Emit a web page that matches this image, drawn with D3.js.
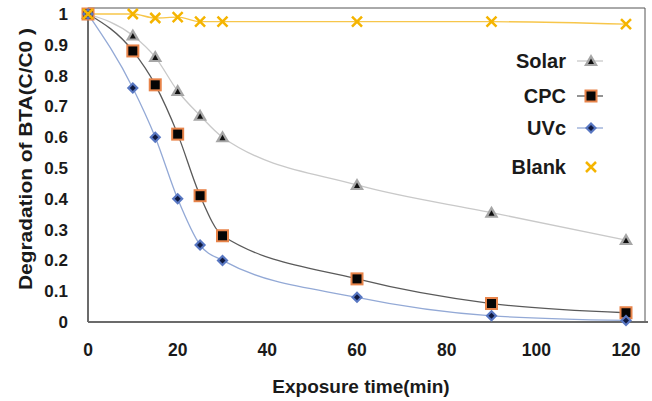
<!DOCTYPE html>
<html>
<head>
<meta charset="utf-8">
<script src="https://cdn.jsdelivr.net/npm/d3@7"></script>
<style>
  body { margin: 0; background: #fff; }
  text { font-family: "Liberation Sans", Arial, sans-serif; font-weight: bold; fill: #1a1a1a; }
</style>
</head>
<body>
<div id="chart"></div>
<script>
// exposure times (min)
const times = [0, 10, 15, 20, 25, 30, 60, 90, 120];
// C/C0 for each condition
const solar = [1, 0.93, 0.86, 0.75, 0.67, 0.60, 0.445, 0.355, 0.266];
const cpc = [1, 0.88, 0.77, 0.61, 0.41, 0.28, 0.14, 0.06, 0.03];
const uvc = [1, 0.76, 0.60, 0.40, 0.25, 0.20, 0.08, 0.02, 0.005];
const blank = [1, 1.0, 0.987, 0.99, 0.975, 0.975, 0.975, 0.975, 0.967];
const seriesNames = ["Solar", "CPC", "UVc", "Blank"];
const xTicks = [0, 20, 40, 60, 80, 100, 120];
const yTicks = [0, 0.1, 0.2, 0.3, 0.4, 0.5, 0.6, 0.7, 0.8, 0.9, 1];

const width = 652, height = 401;

const x = d3.scaleLinear().domain([0, 120]).range([88, 626]);
const y = d3.scaleLinear().domain([0, 1]).range([322, 14]);

const svg = d3.select("#chart").append("svg")
  .attr("width", width)
  .attr("height", height);

// plot border (top and right)
svg.append("path")
  .attr("d", `M${x(0)},8 H645 V${y(0)}`)
  .attr("fill", "none")
  .attr("stroke", "#555")
  .attr("stroke-width", 1);

const styles = {
  Solar: { line: "#c9c9c9", values: solar },
  CPC: { line: "#5a5a5a", values: cpc },
  UVc: { line: "#93a9d6", values: uvc },
  Blank: { line: "#f7c64a", values: blank }
};

const line = d3.line()
  .x(d => x(d[0]))
  .y(d => y(d[1]))
  .curve(d3.curveMonotoneX);

// draw the markers
function marker(g, name, cx, cy) {
  if (name === "Solar") {
    g.append("path").attr("d", `M${cx},${cy - 7} L${cx + 7},${cy + 5} L${cx - 7},${cy + 5} Z`)
      .attr("fill", "#a6a6a6");
    g.append("path").attr("d", `M${cx},${cy - 2.5} L${cx + 3},${cy + 3} L${cx - 3},${cy + 3} Z`)
      .attr("fill", "#111");
  } else if (name === "CPC") {
    g.append("rect").attr("x", cx - 6.5).attr("y", cy - 6.5).attr("width", 13).attr("height", 13)
      .attr("fill", "#e8844a");
    g.append("rect").attr("x", cx - 4.5).attr("y", cy - 4.5).attr("width", 9).attr("height", 9)
      .attr("fill", "#050505");
  } else if (name === "UVc") {
    g.append("path").attr("d", `M${cx},${cy - 6} L${cx + 6},${cy} L${cx},${cy + 6} L${cx - 6},${cy} Z`)
      .attr("fill", "#5877c2");
    g.append("path").attr("d", `M${cx},${cy - 3} L${cx + 3},${cy} L${cx},${cy + 3} L${cx - 3},${cy} Z`)
      .attr("fill", "#101a40");
  } else {
    g.append("path").attr("d", `M${cx - 5},${cy - 5} L${cx + 5},${cy + 5} M${cx + 5},${cy - 5} L${cx - 5},${cy + 5}`)
      .attr("stroke", "#f5b400").attr("stroke-width", 2.5);
  }
}

// lines
const order = ["Solar", "CPC", "UVc", "Blank"];
order.forEach(name => {
  const pts = times.map((t, i) => [t, styles[name].values[i]]);
  svg.append("path")
    .datum(pts)
    .attr("d", line)
    .attr("fill", "none")
    .attr("stroke", styles[name].line)
    .attr("stroke-width", 1.3);
});

// axes
svg.append("line").attr("x1", x(0)).attr("x2", x(0)).attr("y1", 8).attr("y2", y(0))
  .attr("stroke", "#6b6b6b").attr("stroke-width", 2);
svg.append("line").attr("x1", x(0)).attr("x2", 648).attr("y1", y(0)).attr("y2", y(0))
  .attr("stroke", "#6b6b6b").attr("stroke-width", 2);

// markers
order.forEach(name => {
  const g = svg.append("g");
  times.forEach((t, i) => marker(g, name, x(t), y(styles[name].values[i])));
});

// tick labels
svg.selectAll(".ytick").data(yTicks).join("text")
  .attr("x", 68)
  .attr("y", d => y(d) + 6)
  .attr("text-anchor", "end")
  .style("font-size", "17px")
  .text(d => d3.format("")(d));

svg.selectAll(".xtick").data(xTicks).join("text")
  .attr("x", d => x(d))
  .attr("y", 356)
  .attr("text-anchor", "middle")
  .style("font-size", "17.5px")
  .text(d => d);

// axis titles
svg.append("text")
  .attr("x", 361).attr("y", 393)
  .attr("text-anchor", "middle")
  .style("font-size", "19px")
  .text("Exposure time(min)");

svg.append("text")
  .attr("transform", "translate(32,159) rotate(-90)")
  .attr("text-anchor", "middle")
  .style("font-size", "19px")
  .attr("textLength", 262)
  .attr("lengthAdjust", "spacingAndGlyphs")
  .text("Degradation of BTA(C/C0 )");

// legend
const legendY = [61, 96, 128, 167];
seriesNames.forEach((name, i) => {
  const ly = legendY[i];
  svg.append("text")
    .attr("x", 566).attr("y", ly + 7)
    .attr("text-anchor", "end")
    .style("font-size", "20px")
    .text(name);
  if (name !== "Blank") {
    svg.append("line").attr("x1", 577).attr("x2", 603).attr("y1", ly).attr("y2", ly)
      .attr("stroke", styles[name].line).attr("stroke-width", 1.3);
  }
  marker(svg.append("g"), name, 591, ly);
});
</script>
</body>
</html>
